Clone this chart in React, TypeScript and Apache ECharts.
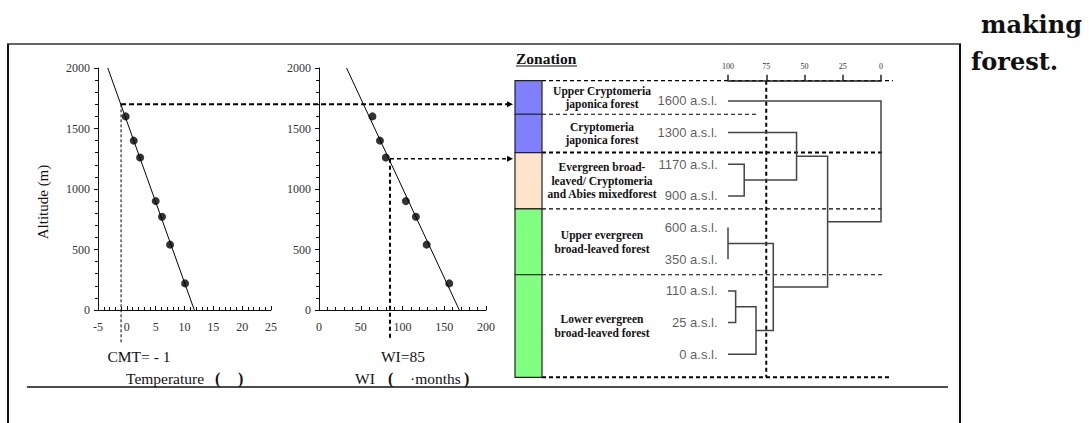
import React, { useEffect, useRef } from "react";
import * as echarts from "echarts";

// ---------------- data ----------------
const altitudes = [1600, 1400, 1260, 900, 770, 540, 220];
const temperatures = [-0.2, 1.2, 2.3, 5.0, 6.1, 7.5, 10.1];
const warmthIndex = [64, 73, 80, 104, 116, 129, 156];

const fitAltitudes = [2000, 0];
const tempFit = [-3.3, 11.7];
const wiFit = [33, 168];

const CMT = -1;
const cmtAltitude = 1700;
const WI = 85;
const wiAltitude = 1250;

const tempTicks = { min: -5, max: 25, interval: 5 };
const wiTicks = { min: 0, max: 200, interval: 50 };
const altTicks = { min: 0, max: 2000, interval: 500 };

const leafNames = [
  "1600 a.s.l.",
  "1300 a.s.l.",
  "1170 a.s.l.",
  "900 a.s.l.",
  "600 a.s.l.",
  "350 a.s.l.",
  "110 a.s.l.",
  "25 a.s.l.",
  "0 a.s.l.",
];
// [childA, childB, similarity]; ids >= 9 are earlier merges
const merges: [number, number, number][] = [
  [2, 3, 89.4],
  [4, 5, 100],
  [6, 7, 95],
  [1, 9, 55.2],
  [11, 8, 81.7],
  [10, 13, 70.4],
  [12, 14, 34.9],
  [0, 15, 0],
];
const simTicks = { min: 0, max: 100, interval: 25 };
const cutLevel = 75;

const zoneLabels = [
  "Upper Cryptomeria\njaponica forest",
  "Cryptomeria\njaponica forest",
  "Evergreen broad-\nleaved/ Cryptomeria\nand Abies mixedforest",
  "Upper evergreen\nbroad-leaved forest",
  "Lower evergreen\nbroad-leaved forest",
];
// zone edges in leaf-row units
const zoneEdges = [-0.64, 0.42, 1.63, 3.41, 5.49, 8.73];
const zoneColors = ["#8080ff", "#8080ff", "#fde3cc", "#80ff80", "#80ff80"];
// right end of each dashed zone boundary, in similarity units
const zoneLineEnds = [-7.8, 81, -2.6, -2.6, -2.6, -5.9];

// ---------------- helpers ----------------
const SERIF = '"Liberation Serif", "Times New Roman", serif';
const SANS = '"Liberation Sans", Arial, sans-serif';

function dendroSegments() {
  const pos: number[] = leafNames.map((_, i) => i);
  const hgt: number[] = leafNames.map(() => 100);
  const segs: { coords: number[][] }[] = [];
  merges.forEach(([a, b, h]) => {
    segs.push({
      coords: [
        [hgt[a], pos[a]],
        [h, pos[a]],
        [h, pos[b]],
        [hgt[b], pos[b]],
      ],
    });
    pos.push((pos[a] + pos[b]) / 2);
    hgt.push(h);
  });
  return segs;
}

const axisLabelStyle = { fontFamily: SERIF, fontSize: 12, color: "#333", formatter: (v: number) => String(v) };
const axisLineStyle = { onZero: false, lineStyle: { color: "#111", width: 1 } };

export default function App() {
  const ref = useRef<HTMLDivElement>(null);

  useEffect(() => {
    if (!ref.current) return;
    const chart = echarts.init(ref.current, null, { renderer: "svg" });

    const valueAxisX = (grid: number, t: any) => ({
      gridIndex: grid,
      type: "value",
      min: t.min,
      max: t.max,
      interval: t.interval,
      axisLine: axisLineStyle,
      axisTick: { inside: true, length: 4, lineStyle: { color: "#111" } },
      minorTick: { show: true, splitNumber: 5, length: 3, lineStyle: { color: "#111" } },
      splitLine: { show: false },
      axisLabel: { ...axisLabelStyle, margin: 11 },
    });
    const valueAxisY = (grid: number) => ({
      gridIndex: grid,
      type: "value",
      min: altTicks.min,
      max: altTicks.max,
      interval: altTicks.interval,
      axisLine: { show: true, ...axisLineStyle },
      axisTick: { show: true, length: 4, lineStyle: { color: "#111" } },
      minorTick: { show: true, splitNumber: 5, length: 3, lineStyle: { color: "#111" } },
      splitLine: { show: false },
      axisLabel: { ...axisLabelStyle, margin: 8 },
    });

    const option: any = {
      animation: false,
      backgroundColor: "#ffffff",
      grid: [
        { left: 98, top: 68, width: 173, height: 242 },
        { left: 319, top: 68, width: 167, height: 242 },
        { left: 515, top: 80.7, width: 27, height: 296.6 },
        { left: 728, top: 80.7, width: 153, height: 296.6 },
      ],
      xAxis: [
        valueAxisX(0, tempTicks),
        valueAxisX(1, wiTicks),
        { gridIndex: 2, type: "value", min: 0, max: 1, show: false },
        {
          gridIndex: 3,
          type: "value",
          position: "top",
          inverse: true,
          min: simTicks.min,
          max: simTicks.max,
          interval: simTicks.interval,
          axisLine: { show: true, onZero: false, lineStyle: { color: "#222", width: 1.5 } },
          axisTick: { show: true, length: 6, lineStyle: { color: "#222", width: 1.5 } },
          splitLine: { show: false },
          axisLabel: { fontFamily: SERIF, fontSize: 8, color: "#333", margin: 10 },
        },
      ],
      yAxis: [
        valueAxisY(0),
        valueAxisY(1),
        { gridIndex: 2, type: "value", min: zoneEdges[0], max: zoneEdges[zoneEdges.length - 1], inverse: true, show: false },
        { gridIndex: 3, type: "value", min: zoneEdges[0], max: zoneEdges[zoneEdges.length - 1], inverse: true, show: false },
      ],
      series: [
        {
          type: "scatter",
          xAxisIndex: 0,
          yAxisIndex: 0,
          symbolSize: 8,
          itemStyle: { color: "#000" },
          data: altitudes.map((a, i) => [temperatures[i], a]),
        },
        {
          type: "line",
          xAxisIndex: 0,
          yAxisIndex: 0,
          showSymbol: false,
          symbol: "none",
          lineStyle: { color: "#000", width: 1 },
          data: fitAltitudes.map((a, i) => [tempFit[i], a]),
        },
        {
          type: "scatter",
          xAxisIndex: 1,
          yAxisIndex: 1,
          symbolSize: 8,
          itemStyle: { color: "#000" },
          data: altitudes.map((a, i) => [warmthIndex[i], a]),
        },
        {
          type: "line",
          xAxisIndex: 1,
          yAxisIndex: 1,
          showSymbol: false,
          symbol: "none",
          lineStyle: { color: "#000", width: 1 },
          data: fitAltitudes.map((a, i) => [wiFit[i], a]),
        },
        {
          type: "custom",
          xAxisIndex: 2,
          yAxisIndex: 2,
          clip: false,
          data: zoneLabels.map((_, i) => [0, zoneEdges[i], zoneEdges[i + 1], i]),
          encode: { x: 0, y: [1, 2] },
          renderItem: (_p: any, api: any) => {
            const i = api.value(3);
            const p0 = api.coord([0, api.value(1)]);
            const p1 = api.coord([1, api.value(2)]);
            return {
              type: "group",
              children: [
                {
                  type: "rect",
                  shape: { x: p0[0], y: p0[1], width: p1[0] - p0[0], height: p1[1] - p0[1] },
                  style: { fill: zoneColors[i], stroke: "#222", lineWidth: 1.2 },
                },
                {
                  type: "text",
                  x: p1[0] + 60,
                  y: (p0[1] + p1[1]) / 2,
                  style: {
                    text: zoneLabels[i],
                    textAlign: "center",
                    textVerticalAlign: "middle",
                    font: `bold 11.5px ${SERIF}`,
                    lineHeight: 13.5,
                    fill: "#111",
                  },
                },
              ],
            };
          },
        },
        {
          type: "lines",
          coordinateSystem: "cartesian2d",
          xAxisIndex: 3,
          yAxisIndex: 3,
          polyline: true,
          silent: true,
          lineStyle: { color: "#444", width: 1.5, opacity: 1 },
          data: dendroSegments(),
        },
        {
          type: "scatter",
          xAxisIndex: 3,
          yAxisIndex: 3,
          symbolSize: 1,
          itemStyle: { color: "rgba(0,0,0,0)" },
          label: {
            show: true,
            position: "left",
            distance: 10,
            formatter: "{b}",
            fontFamily: SANS,
            fontSize: 13,
            color: "#333",
          },
          data: leafNames.map((n, i) => ({ name: n, value: [simTicks.max, i] })),
        },
      ],
    };
    chart.setOption(option);

    const px = (g: number, v: number[]) => chart.convertToPixel({ gridIndex: g }, v) as number[];
    const dash = (x1: number, y1: number, x2: number, y2: number, w: number, d: number[]) => ({
      type: "line",
      shape: { x1, y1, x2, y2 },
      style: { stroke: "#000", lineWidth: w, lineDash: d },
      silent: true,
    });
    const arrow = (x: number, y: number) => ({
      type: "polygon",
      shape: { points: [[x - 6, y - 3], [x, y], [x - 6, y + 3]] },
      style: { fill: "#000" },
    });
    const txt = (x: number, y: number, text: string, font: string, align = "left", extra: any = {}) => ({
      type: "text",
      x,
      y,
      style: { text, font, fill: "#111", textAlign: align, textVerticalAlign: "middle" },
      ...extra,
    });

    const colLeft = px(2, [0, 0])[0];
    const colRight = px(2, [1, 0])[0];
    const arrowX = colLeft - 2;

    const cmtTop = px(0, [CMT, cmtAltitude]);
    const cmtBase = px(0, [CMT, 0]);
    const wiTop = px(1, [WI, wiAltitude]);
    const wiBase = px(1, [WI, 0]);

    const graphics: any[] = [];
    // frame
    graphics.push({ type: "line", shape: { x1: 8, y1: 44, x2: 8, y2: 423 }, style: { stroke: "#111", lineWidth: 2 } });
    graphics.push({ type: "line", shape: { x1: 7, y1: 44, x2: 961, y2: 44 }, style: { stroke: "#333", lineWidth: 1.5 } });
    graphics.push({ type: "line", shape: { x1: 960, y1: 44, x2: 960, y2: 423 }, style: { stroke: "#111", lineWidth: 2 } });
    graphics.push({ type: "line", shape: { x1: 27, y1: 387, x2: 948, y2: 387 }, style: { stroke: "#111", lineWidth: 1.5 } });

    // CMT / WI guides
    graphics.push(dash(cmtTop[0], cmtTop[1], cmtBase[0], cmtBase[1] + 33, 1, [3, 2]));
    graphics.push(dash(cmtTop[0], cmtTop[1], arrowX - 5, cmtTop[1], 2, [5, 3]));
    graphics.push(arrow(arrowX, cmtTop[1]));
    graphics.push(dash(wiTop[0], wiTop[1], wiBase[0], wiBase[1] + 28, 2, [4, 3]));
    graphics.push(dash(wiTop[0], wiTop[1], arrowX - 5, wiTop[1], 1.5, [4, 3]));
    graphics.push(arrow(arrowX, wiTop[1]));

    // zone boundaries
    zoneEdges.forEach((e, i) => {
      const y = px(3, [0, e])[1];
      const xEnd = px(3, [zoneLineEnds[i], e])[0];
      const w = i === 2 || i === 5 ? 2 : 1.2;
      graphics.push(dash(colRight, y, xEnd, y, w, [4, 3]));
    });
    // cut level
    const cutTop = px(3, [cutLevel, zoneEdges[0]]);
    const cutBot = px(3, [cutLevel, zoneEdges[zoneEdges.length - 1]]);
    graphics.push(dash(cutTop[0], cutTop[1], cutBot[0], cutBot[1], 2, [4, 3]));

    // texts
    graphics.push({
      type: "text",
      x: 43,
      y: 202,
      rotation: Math.PI / 2,
      style: { text: "Altitude (m)", font: `15px ${SERIF}`, fill: "#111", textAlign: "center", textVerticalAlign: "middle" },
    });
    graphics.push(txt(139, 356, "CMT= - 1", `15.5px ${SERIF}`, "center"));
    graphics.push(txt(126, 378, "Temperature", `15.5px ${SERIF}`));
    graphics.push(txt(215, 378, "(", `bold 16px ${SERIF}`));
    graphics.push(txt(238, 378, ")", `bold 16px ${SERIF}`));
    graphics.push(txt(403, 356, "WI=85", `15.5px ${SERIF}`, "center"));
    graphics.push(txt(355, 378, "WI", `15.5px ${SERIF}`));
    graphics.push(txt(388, 378, "(", `bold 16px ${SERIF}`));
    graphics.push(txt(410, 378, "·months", `15.5px ${SERIF}`));
    graphics.push(txt(464, 378, ")", `bold 16px ${SERIF}`));

    graphics.push(txt(516, 58, "Zonation", `bold 15.5px ${SERIF}`));
    graphics.push({ type: "line", shape: { x1: 516, y1: 66, x2: 577, y2: 66 }, style: { stroke: "#111", lineWidth: 1.2 } });

    graphics.push(txt(981, 24, "making", `bold 24px "DejaVu Serif", serif`));
    graphics.push(txt(971, 61, "forest.", `bold 24px "DejaVu Serif", serif`));

    chart.setOption({ graphic: { elements: graphics } });

    return () => chart.dispose();
  }, []);

  return (
    <div
      ref={ref}
      style={{ position: "absolute", left: 0, top: 0, width: 1089, height: 423, background: "#fff" }}
    />
  );
}
